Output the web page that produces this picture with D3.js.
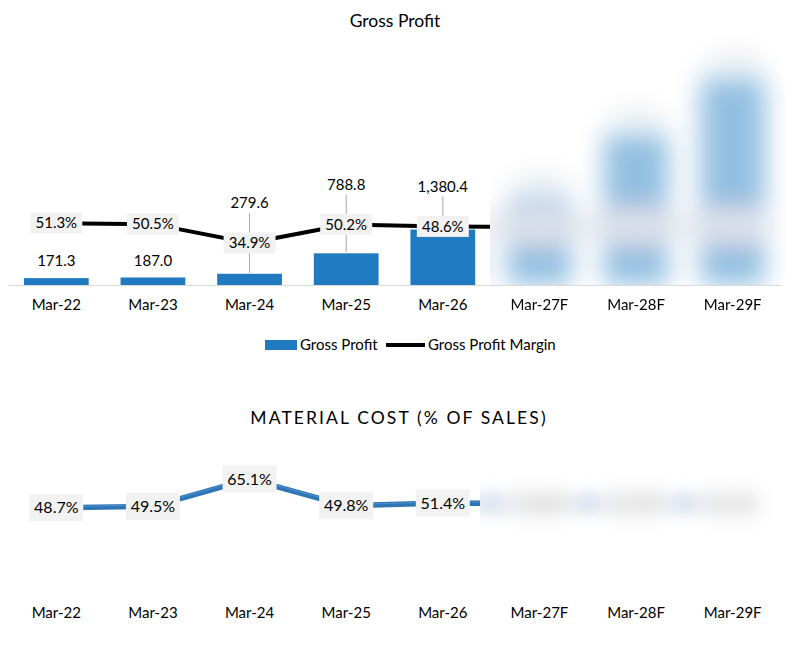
<!DOCTYPE html>
<html>
<head>
<meta charset="utf-8">
<script src="https://cdn.jsdelivr.net/npm/d3@7"></script>
<style>
  body { margin: 0; background: #fff; }
  text { font-family: Lato, "Open Sans", sans-serif; fill: #000; }
</style>
</head>
<body>
<script>
const width = 785;
const height = 646;

// data (forecast years are blurred in the source, so they are rough guesses)
const categories = ["Mar-22", "Mar-23", "Mar-24", "Mar-25", "Mar-26", "Mar-27F", "Mar-28F", "Mar-29F"];
const grossProfit = [171.3, 187.0, 279.6, 788.8, 1380.4, 2150, 3750, 5150];
const grossMargin = [0.513, 0.505, 0.349, 0.502, 0.486, 0.480, 0.485, 0.490];
const materialCost = [0.487, 0.495, 0.651, 0.498, 0.514, 0.510, 0.512, 0.511];
const legendItems = ["Gross Profit", "Gross Profit Margin"];

const barColor = "#1f7ac0";
const lineColor = "#2e75b6";

const svg = d3.select("body").append("svg").attr("width", width).attr("height", height);
const defs = svg.append("defs");

// x scale shared by both charts
const x = d3.scaleBand().domain(categories).range([8, 781]).padding(0);
const cx = d => x(d) + x.bandwidth() / 2;
const barW = x.bandwidth() * 0.67;

// top chart scales
const yL = d3.scaleLinear().domain([0, 6000]).range([285, 44]);
const yR = d3.scaleLinear().domain([0, 2]).range([285, 44]);
// bottom chart
const yM = d3.scaleLinear().domain([0, 0.8]).range([593, 453]);

const fmtNum = d3.format(",.1f");
const fmtPct = d3.format(".1%");

// heavy blur for the hidden forecast area
function blurFilter(id, rx, ry, rw, rh, sd) {
  const f = defs.append("filter").attr("id", id)
    .attr("filterUnits", "userSpaceOnUse")
    .attr("x", rx).attr("y", ry).attr("width", rw).attr("height", rh);
  f.append("feGaussianBlur").attr("in", "SourceGraphic").attr("stdDeviation", sd);
}

function clipPair(id, rx, ry, rw, rh) {
  defs.append("clipPath").attr("id", id + "In")
    .append("rect").attr("x", rx).attr("y", ry).attr("width", rw).attr("height", rh);
  defs.append("clipPath").attr("id", id + "Out")
    .append("path")
    .attr("d", `M0,0H${rx}V${ry}H${rx}V${ry + rh}H${width}V${height}H0Z`);
}

// ---------------- Gross Profit ----------------
svg.append("text")
  .attr("x", 395).attr("y", 21).attr("dy", "0.35em")
  .attr("text-anchor", "middle").attr("font-size", 17.5)
  .text("Gross Profit");

const topG = defs.append("g").attr("id", "topContent");

topG.selectAll("rect.bar")
  .data(categories)
  .join("rect")
  .attr("class", "bar")
  .attr("x", d => cx(d) - barW / 2)
  .attr("width", barW)
  .attr("y", (d, i) => yL(grossProfit[i]))
  .attr("height", (d, i) => yL(0) - yL(grossProfit[i]))
  .attr("fill", barColor);

// bar value labels, lifted above the margin label when they would collide
const barLab = categories.map((d, i) => {
  const barTop = yL(grossProfit[i]);
  let ly = barTop - 17;
  const py = yR(grossMargin[i]);
  const moved = Math.abs(ly - py) < 28;
  if (moved) ly = py - 40;
  return { d, i, barTop, ly, moved };
});

topG.selectAll("line.leader")
  .data(barLab.filter(b => b.moved))
  .join("line")
  .attr("x1", b => cx(b.d)).attr("x2", b => cx(b.d))
  .attr("y1", b => b.ly + 10).attr("y2", b => b.barTop - 1)
  .attr("stroke", "#a6a6a6").attr("stroke-width", 1);

topG.selectAll("text.barlab")
  .data(barLab)
  .join("text")
  .attr("class", "barlab")
  .attr("x", b => cx(b.d)).attr("y", b => b.ly).attr("dy", "0.35em")
  .attr("text-anchor", "middle").attr("font-size", 15)
  .text(b => fmtNum(grossProfit[b.i]));

const marginLine = d3.line()
  .x(d => cx(d))
  .y((d, i) => yR(grossMargin[i]));

topG.append("path")
  .datum(categories)
  .attr("d", marginLine)
  .attr("fill", "none").attr("stroke", "#000").attr("stroke-width", 4);

const mLab = topG.selectAll("g.mlab")
  .data(categories)
  .join("g")
  .attr("class", "mlab")
  .attr("transform", (d, i) => `translate(${cx(d)},${yR(grossMargin[i])})`);
mLab.append("rect")
  .attr("x", -26).attr("y", -10.5).attr("width", 52).attr("height", 21)
  .attr("fill", "#f2f2f2");
mLab.append("text")
  .attr("dy", "0.35em").attr("text-anchor", "middle").attr("font-size", 15)
  .text((d, i) => fmtPct(grossMargin[i]));

clipPair("clipTop", 490, 0, 295, 285);
blurFilter("blurTop", 440, -30, 370, 340, 13);

svg.append("use").attr("href", "#topContent").attr("clip-path", "url(#clipTopOut)");
svg.append("g").attr("clip-path", "url(#clipTopIn)")
  .append("use").attr("href", "#topContent")
  .attr("filter", "url(#blurTop)").attr("opacity", 0.48);

// axis
const xAxisTop = svg.append("g")
  .attr("transform", `translate(0,${yL(0)})`)
  .call(d3.axisBottom(x).tickSize(0).tickPadding(14));
xAxisTop.select(".domain").attr("stroke", "#d9d9d9").attr("stroke-width", 1);
xAxisTop.selectAll("text").attr("font-size", 15).attr("font-family", null);

// legend
const legend = svg.append("g").attr("transform", "translate(265,345)");
legend.append("rect").attr("x", 0).attr("y", -5).attr("width", 32).attr("height", 10).attr("fill", barColor);
legend.append("text").attr("x", 35).attr("dy", "0.35em").attr("font-size", 15).text(legendItems[0]);
legend.append("line").attr("x1", 121).attr("x2", 160).attr("stroke", "#000").attr("stroke-width", 4);
legend.append("text").attr("x", 163).attr("dy", "0.35em").attr("font-size", 15).text(legendItems[1]);

// ---------------- Material cost ----------------
svg.append("text")
  .attr("x", 399).attr("y", 418).attr("dy", "0.35em")
  .attr("text-anchor", "middle").attr("font-size", 17.5)
  .attr("letter-spacing", 2.1)
  .text("MATERIAL COST (% OF SALES)");

const botG = defs.append("g").attr("id", "botContent");

const costLine = d3.line()
  .x(d => cx(d))
  .y((d, i) => yM(materialCost[i]));

botG.append("path")
  .datum(categories)
  .attr("d", costLine)
  .attr("fill", "none").attr("stroke", lineColor).attr("stroke-width", 5.5);
botG.append("path")
  .datum(categories)
  .attr("d", costLine)
  .attr("fill", "none").attr("stroke", "#5b9bd5").attr("stroke-width", 1.2)
  .attr("transform", "translate(0,-1.3)").attr("opacity", 0.6);

const cLab = botG.selectAll("g.clab")
  .data(categories)
  .join("g")
  .attr("class", "clab")
  .attr("transform", (d, i) => `translate(${cx(d)},${yM(materialCost[i])})`);
cLab.append("rect")
  .attr("x", -27).attr("y", -13.5).attr("width", 54).attr("height", 27)
  .attr("fill", "#f2f2f2");
cLab.append("text")
  .attr("dy", "0.35em").attr("text-anchor", "middle").attr("font-size", 16)
  .text((d, i) => fmtPct(materialCost[i]));

clipPair("clipBot", 480, 440, 305, 120);
blurFilter("blurBot", 430, 400, 370, 200, 10);

svg.append("use").attr("href", "#botContent").attr("clip-path", "url(#clipBotOut)");
svg.append("g").attr("clip-path", "url(#clipBotIn)")
  .append("use").attr("href", "#botContent")
  .attr("filter", "url(#blurBot)").attr("opacity", 0.85);

const xAxisBot = svg.append("g")
  .attr("transform", `translate(0,${yM(0)})`)
  .call(d3.axisBottom(x).tickSize(0).tickPadding(14));
xAxisBot.select(".domain").remove();
xAxisBot.selectAll("text").attr("font-size", 15).attr("font-family", null);
</script>
</body>
</html>
